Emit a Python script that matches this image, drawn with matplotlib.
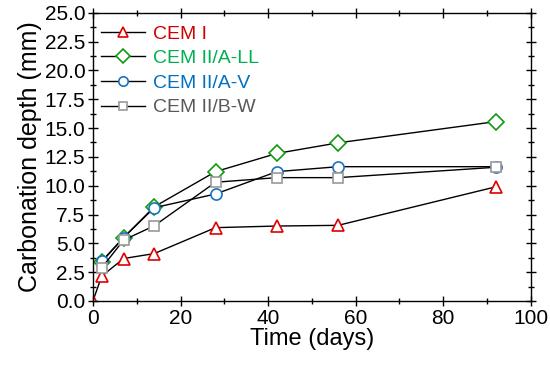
import matplotlib
matplotlib.use("Agg")
import matplotlib.pyplot as plt
from matplotlib.ticker import MultipleLocator

plt.rcParams['font.family'] = ['Liberation Sans', 'DejaVu Sans']

days = [2, 7, 14, 28, 42, 56, 92]
cem_i_days = [0] + days
cem_i = [0.0, 2.15, 3.68, 4.11, 6.36, 6.5, 6.56, 9.9]
cem_ii_a_ll = [3.39, 5.5, 8.17, 11.22, 12.8, 13.72, 15.56]
cem_ii_a_v = [3.45, 5.5, 8.09, 9.28, 11.22, 11.65, 11.65]
cem_ii_b_w = [2.87, 5.28, 6.52, 10.3, 10.7, 10.7, 11.6]

fig = plt.figure(figsize=(5.5, 3.67), dpi=100)
ax = fig.add_axes([0.169, 0.18, 0.796, 0.785])

# name, x, y, marker, size, marker colour, text colour
series = [
    ("CEM I", cem_i_days, cem_i, '^', 9, '#e00000', '#d00000'),
    ("CEM II/A-LL", days, cem_ii_a_ll, 'D', 8.5, '#109a10', '#00b050'),
    ("CEM II/A-V", days, cem_ii_a_v, 'o', 8, '#1a72c0', '#0070c0'),
    ("CEM II/B-W", days, cem_ii_b_w, 's', 7, '#9a9a9a', '#595959'),
]
for name, x, y, m, ms, mc, tc in series:
    ax.plot(x, y, color='black', lw=1.0, marker=m, ms=ms, mfc='white',
            mec=mc, mew=1.2, label=name)

ax.set_xlim(0, 100)
ax.set_ylim(0, 25)
ax.xaxis.set_major_locator(MultipleLocator(20))
ax.xaxis.set_minor_locator(MultipleLocator(10))
ax.yaxis.set_major_locator(MultipleLocator(2.5))
ax.yaxis.set_minor_locator(MultipleLocator(1.25))
ax.yaxis.set_major_formatter(plt.FormatStrFormatter('%.1f'))
ax.tick_params(which='both', direction='inout', top=True, right=True, labelsize=15, width=1)
ax.tick_params(which='major', length=7, pad=2)
ax.tick_params(which='minor', length=4)
for s in ax.spines.values():
    s.set_linewidth(1.0)

ax.set_xlabel("Time (days)", fontsize=17, labelpad=0)
ax.set_ylabel("Carbonation depth (mm)", fontsize=18, labelpad=2)

leg = ax.legend(loc='upper left', frameon=False, fontsize=14, handlelength=2.3,
                handletextpad=0.4, labelspacing=0.36, borderaxespad=0.0,
                markerscale=0.85, bbox_to_anchor=(0.0, 0.985))
for txt, s in zip(leg.get_texts(), series):
    txt.set_color(s[6])

fig.savefig("out.png", dpi=100)
